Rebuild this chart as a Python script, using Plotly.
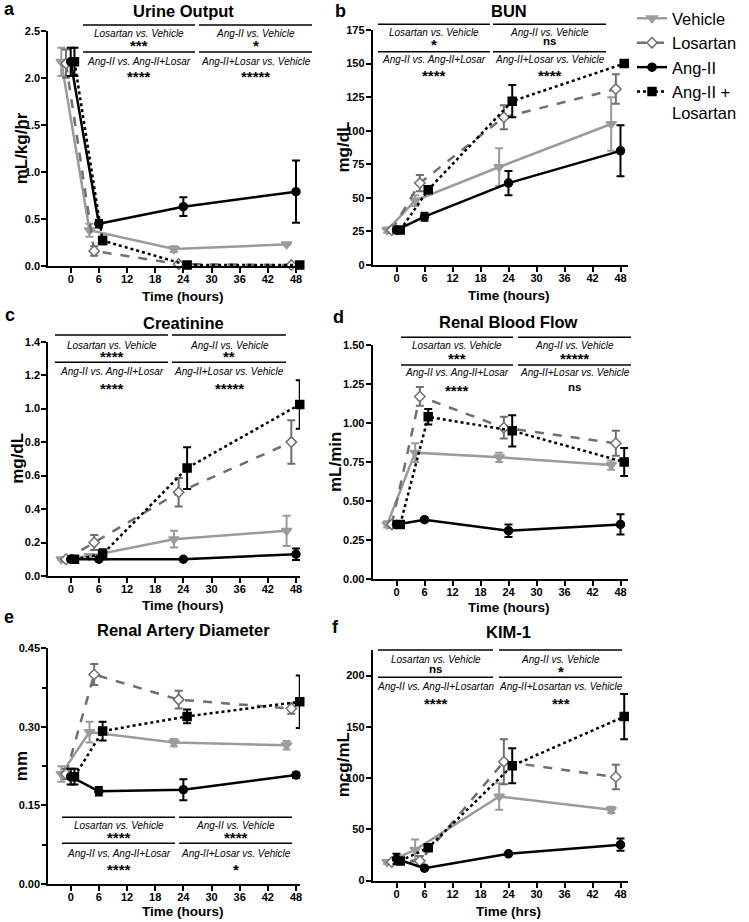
import plotly.graph_objects as go

# ---------------- data ----------------
TIME = [0, 6, 24, 48]
GROUPS = ["Vehicle", "Losartan", "Ang-II", "Ang-II + Losartan"]
X_TICKS = [0, 6, 12, 18, 24, 30, 36, 42, 48]

urine = {"Vehicle": [2.17, 0.38, 0.18, 0.23], "Losartan": [2.15, 0.16, 0.02, 0.01],
         "Ang-II": [2.17, 0.45, 0.63, 0.79], "Ang-II + Losartan": [2.17, 0.27, 0.01, 0.01]}
urine_err = {"Vehicle": [0.15, 0.07, 0.03, 0.01], "Losartan": [0.15, 0.05, 0.01, 0.01],
             "Ang-II": [0.15, 0.04, 0.10, 0.33], "Ang-II + Losartan": [0.15, 0.04, 0.0, 0.0]}

bun = {"Vehicle": [26, 48, 73, 105], "Losartan": [26, 61, 110, 131],
       "Ang-II": [26, 36, 61, 85], "Ang-II + Losartan": [26, 56, 122, 150]}
bun_err = {"Vehicle": [2, 4, 14, 20], "Losartan": [2, 6, 9, 11],
           "Ang-II": [2, 3, 9, 19], "Ang-II + Losartan": [2, 2, 12, 2]}

creat = {"Vehicle": [0.10, 0.12, 0.22, 0.27], "Losartan": [0.10, 0.20, 0.50, 0.80],
         "Ang-II": [0.10, 0.10, 0.10, 0.13], "Ang-II + Losartan": [0.10, 0.13, 0.645, 1.025]}
creat_err = {"Vehicle": [0.005, 0.01, 0.05, 0.09], "Losartan": [0.005, 0.045, 0.085, 0.13],
             "Ang-II": [0.0, 0.0, 0.0, 0.035], "Ang-II + Losartan": [0.005, 0.03, 0.125, 0.145]}

rbf = {"Vehicle": [0.35, 0.81, 0.78, 0.73], "Losartan": [0.35, 1.17, 0.97, 0.87],
       "Ang-II": [0.35, 0.38, 0.31, 0.35], "Ang-II + Losartan": [0.35, 1.04, 0.95, 0.75]}
rbf_err = {"Vehicle": [0.02, 0.06, 0.03, 0.03], "Losartan": [0.02, 0.06, 0.07, 0.08],
           "Ang-II": [0.02, 0.01, 0.04, 0.065], "Ang-II + Losartan": [0.02, 0.05, 0.10, 0.09]}

rad = {"Vehicle": [0.21, 0.29, 0.27, 0.265], "Losartan": [0.21, 0.40, 0.352, 0.335],
       "Ang-II": [0.205, 0.177, 0.18, 0.208], "Ang-II + Losartan": [0.205, 0.292, 0.32, 0.348]}
rad_err = {"Vehicle": [0.015, 0.02, 0.007, 0.008], "Losartan": [0.01, 0.02, 0.017, 0.01],
           "Ang-II": [0.015, 0.008, 0.02, 0.005], "Ang-II + Losartan": [0.015, 0.018, 0.013, 0.05]}

kim = {"Vehicle": [18, 30, 82, 69], "Losartan": [18, 19, 116, 101],
       "Ang-II": [21, 12, 26, 35], "Ang-II + Losartan": [19, 32, 112, 160]}
kim_err = {"Vehicle": [2, 10, 13, 3], "Losartan": [2, 5, 22, 12],
           "Ang-II": [5, 1, 1, 6], "Ang-II + Losartan": [3, 2, 17, 22]}

# ---------------- styles ----------------
W, H = 749, 922
FONT = "Liberation Sans"
DODGE = {"Vehicle": -2.0, "Losartan": -1.0, "Ang-II": 0.0, "Ang-II + Losartan": 0.8}
STYLE = {
    "Vehicle": dict(color="#9b9b9b", dash="solid", symbol="triangle-down", size=9, fill="#9b9b9b"),
    "Losartan": dict(color="#6f6f6f", dash="dash", symbol="diamond", size=8, fill="white"),
    "Ang-II": dict(color="#000000", dash="solid", symbol="circle", size=8, fill="#000000"),
    "Ang-II + Losartan": dict(color="#000000", dash="dot", symbol="square", size=8, fill="#000000"),
}
LEGEND_NAME = {"Vehicle": "Vehicle", "Losartan": "Losartan", "Ang-II": "Ang-II",
               "Ang-II + Losartan": "Ang-II +<br>Losartan"}


def fx(px):
    return px / W


def fy(py):
    return 1 - py / H


def label(text, x, y, size, bold=False, angle=0):
    f = dict(size=size, family=FONT, color="black")
    if bold:
        f["weight"] = "bold"
    return dict(text=text, x=fx(x), y=fy(y), xref="paper", yref="paper", showarrow=False,
                xanchor="center", yanchor="middle", textangle=angle, font=f)


# panel geometry in pixels
LEFT = dict(axis=48.3, x0=70.7, x48=296.0, end=300.0)
RIGHT = dict(axis=372.7, x0=396.5, x48=620.5, end=628.0)

PANELS = [
    dict(key="a", mean=urine, err=urine_err, col=LEFT, top=30.7, bot=266, ymax=2.5, dtick=0.5, fmt=".1f",
         title="Urine Output", ytitle="mL/kg/hr", xtitle="Time (hours)", ytx=21, xty=296,
         letter=(9, 9), tty=11,
         stats=dict(lines=(25, 52), txt=(33.5, 43.5, 61, 74.5), segs=((83, 195), (199, 312)),
                    labels=(("Losartan vs. Vehicle", "***"), ("Ang-II vs. Vehicle", "*"),
                            ("Ang-II vs. Ang-II+Losar", "****"), ("Ang-II+Losar vs. Vehicle", "*****")))),
    dict(key="b", mean=bun, err=bun_err, col=RIGHT, top=30, bot=265, ymax=175, dtick=25, fmt="d",
         title="BUN", ytitle="mg/dL", xtitle="Time (hours)", ytx=343, xty=295,
         letter=(340, 11), tty=11,
         stats=dict(lines=(24.3, 51.7), txt=(32.5, 42.5, 60, 73), segs=((378, 490), (493, 606)),
                    labels=(("Losartan vs. Vehicle", "*"), ("Ang-II vs. Vehicle", "ns"),
                            ("Ang-II vs. Ang-II+Losar", "****"), ("Ang-II+Losar vs. Vehicle", "****")))),
    dict(key="c", mean=creat, err=creat_err, col=LEFT, top=341.7, bot=576, ymax=1.4, dtick=0.2, fmt=".1f",
         title="Creatinine", ytitle="mg/dL", xtitle="Time (hours)", ytx=18, xty=605,
         letter=(10, 315), tty=323,
         stats=dict(lines=(335, 362.3), txt=(345, 354.5, 372, 386), segs=((55, 168), (172, 286)),
                    labels=(("Losartan vs. Vehicle", "****"), ("Ang-II vs. Vehicle", "**"),
                            ("Ang-II vs. Ang-II+Losar", "****"), ("Ang-II+Losar vs. Vehicle", "*****")))),
    dict(key="d", mean=rbf, err=rbf_err, col=RIGHT, top=345, bot=579, ymax=1.5, dtick=0.25, fmt=".2f",
         title="Renal Blood Flow", ytitle="mL/min", xtitle="Time (hours)", ytx=335, xty=607,
         letter=(338, 317), tty=322,
         stats=dict(lines=(337.3, 365), txt=(345.5, 356, 373, 388), segs=((401, 513), (518, 631)),
                    labels=(("Losartan vs. Vehicle", "***"), ("Ang-II vs. Vehicle", "*****"),
                            ("Ang-II vs. Ang-II+Losar", "****"), ("Ang-II+Losar vs. Vehicle", "ns")))),
    dict(key="e", mean=rad, err=rad_err, col=LEFT, top=648.3, bot=884, ymax=0.45, dtick=0.15, fmt=".2f",
         title="Renal Artery Diameter", ytitle="mm", xtitle="Time (hours)", ytx=21, xty=911,
         letter=(9, 617), tty=630, minor=0.075,
         stats=dict(lines=(817.3, 843.3), txt=(825.5, 835, 853, 867.5), segs=((62, 175), (179, 292)),
                    labels=(("Losartan vs. Vehicle", "****"), ("Ang-II vs. Vehicle", "****"),
                            ("Ang-II vs. Ang-II+Losar", "****"), ("Ang-II+Losar vs. Vehicle", "*")))),
    dict(key="f", mean=kim, err=kim_err, col=RIGHT, top=650, bot=880.5, ymax=225, dtick=50, fmt="d",
         title="KIM-1", ytitle="mcg/mL", xtitle="Time (hrs)", ytx=343, xty=911,
         letter=(335, 627), tty=632, tickmax=200,
         stats=dict(lines=(650, 677.3), txt=(659, 669.5, 686, 701), segs=((378, 493), (499, 622)),
                    labels=(("Losartan vs. Vehicle", "ns"), ("Ang-II vs. Vehicle", "*"),
                            ("Ang-II vs. Ang-II+Losartan", "****"), ("Ang-II+Losartan vs. Vehicle", "***")))),
]

fig = go.Figure()
layout = dict(width=W, height=H, margin=dict(l=0, r=0, t=0, b=0, autoexpand=False),
              plot_bgcolor="white", paper_bgcolor="white",
              font=dict(family=FONT, color="black"))
annotations = []
shapes = []

for i, p in enumerate(PANELS):
    n = "" if i == 0 else str(i + 1)
    col = p["col"]
    hpp = (col["x48"] - col["x0"]) / 48.0
    xr = [-(col["x0"] - col["axis"]) / hpp, 48 + (col["end"] - col["x48"]) / hpp]
    ax = dict(domain=[fx(col["axis"]), fx(col["end"])], range=xr, showgrid=False, zeroline=False,
              showline=True, linecolor="black", linewidth=2, ticks="outside", ticklen=5, tickwidth=2,
              tickcolor="black", tickvals=X_TICKS, tickfont=dict(family=FONT, size=11, weight="bold"),
              ticklabelstandoff=-3, anchor="y" + n, fixedrange=True, automargin=False)
    tickmax = p.get("tickmax", p["ymax"])
    nt = int(round(tickmax / p["dtick"]))
    yv = [k * p["dtick"] for k in range(nt + 1)]
    ay = dict(domain=[fy(p["bot"]), fy(p["top"])], range=[0, p["ymax"]], showgrid=False, zeroline=False,
              showline=True, linecolor="black", linewidth=2, ticks="outside", ticklen=5, tickwidth=2,
              tickcolor="black", tickvals=yv, tickformat=p["fmt"], ticklabelstandoff=-1,
              tickfont=dict(family=FONT, size=11, weight="bold"), anchor="x" + n, fixedrange=True,
              automargin=False)
    if "minor" in p:
        ay["minor"] = dict(dtick=p["minor"], ticklen=4, tickwidth=2, tickcolor="black", ticks="outside")
    layout["xaxis" + n] = ax
    layout["yaxis" + n] = ay

    for g in GROUPS:
        s = STYLE[g]
        xs = [t + DODGE[g] for t in TIME]
        fig.add_trace(go.Scatter(
            x=xs, y=p["mean"][g], xaxis="x" + n, yaxis="y" + n, mode="lines+markers",
            name=LEGEND_NAME[g], showlegend=(i == 0),
            line=dict(color=s["color"], width=2.5, dash=s["dash"]),
            marker=dict(symbol=s["symbol"], size=s["size"], color=s["fill"],
                        line=dict(color=s["color"], width=1.5)),
            error_y=dict(type="data", array=p["err"][g], color=s["color"], thickness=2, width=4),
            cliponaxis=False,
        ))

    cx = (col["x0"] + col["x48"]) / 2
    annotations.append(label(p["title"], cx, p["tty"], 16.5, bold=True))
    annotations.append(label(p["key"], p["letter"][0], p["letter"][1], 18, bold=True))
    annotations.append(label(p["xtitle"], cx, p["xty"], 13.5, bold=True))
    annotations.append(label(p["ytitle"], p["ytx"], (p["top"] + p["bot"]) / 2, 17, bold=True, angle=-90))
    st = p["stats"]
    for (x1, x2) in st["segs"]:
        for ly in st["lines"]:
            shapes.append(dict(type="line", xref="paper", yref="paper", x0=fx(x1), x1=fx(x2),
                               y0=fy(ly), y1=fy(ly), line=dict(color="black", width=1.5)))
    L1, R1, L2, R2 = st["labels"]
    t1, s1, t2, s2 = st["txt"]
    for (lab, sig), seg, ty, sy in [(L1, st["segs"][0], t1, s1), (R1, st["segs"][1], t1, s1),
                                    (L2, st["segs"][0], t2, s2), (R2, st["segs"][1], t2, s2)]:
        sx = (seg[0] + seg[1]) / 2
        annotations.append(label("<i>" + lab + "</i>", sx, ty, 10))
        if sig == "ns":
            annotations.append(label("ns", sx, sy - 1, 11.5, bold=True))
        else:
            annotations.append(label(sig, sx, sy + 2, 15, bold=True))

layout["annotations"] = annotations
layout["shapes"] = shapes
layout["legend"] = dict(x=fx(632), y=fy(1), xanchor="left", yanchor="top",
                        font=dict(family=FONT, size=16.5), bgcolor="rgba(0,0,0,0)",
                        tracegroupgap=0, valign="top", itemwidth=30)
fig.update_layout(**layout)
fig.write_html("out.html", config={"displayModeBar": False},
               post_script="document.body.style.margin='0';")
